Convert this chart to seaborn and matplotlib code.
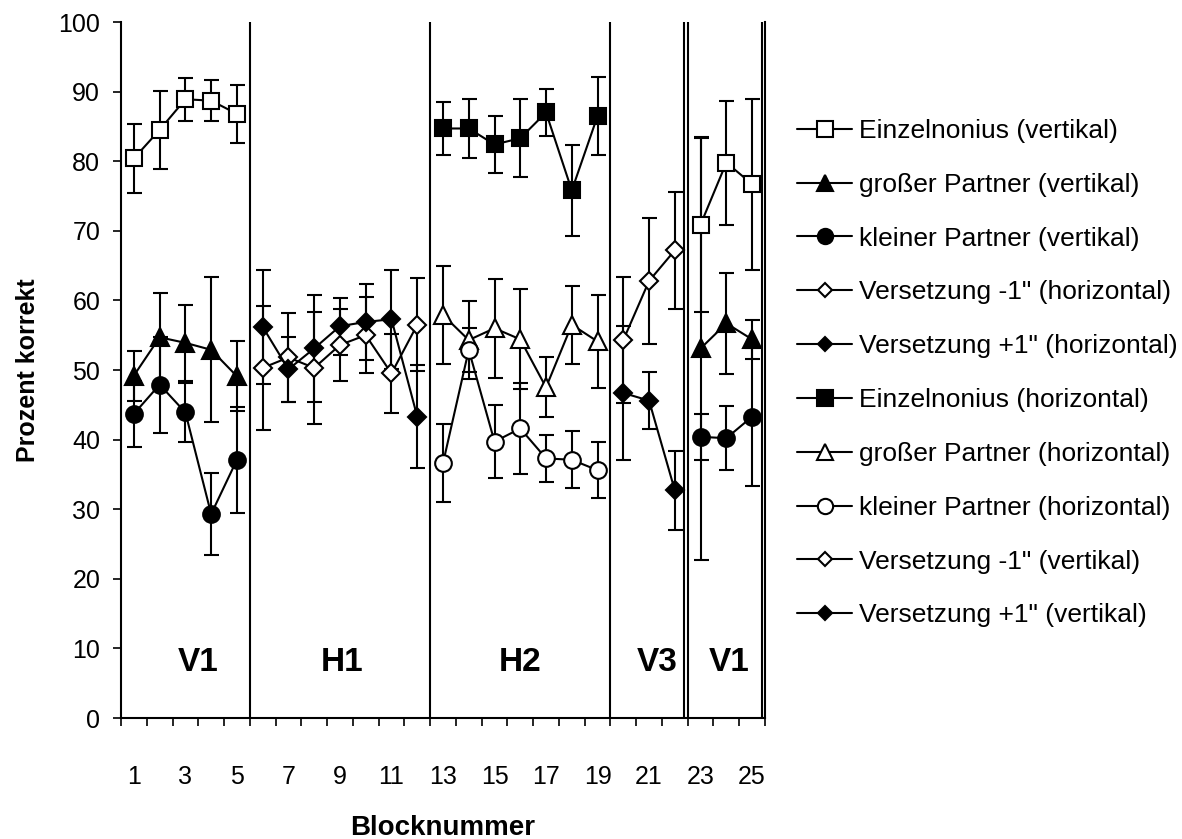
import numpy as np
import pandas as pd
import matplotlib
matplotlib.use("Agg")
import matplotlib.pyplot as plt
from matplotlib.lines import Line2D
import seaborn as sns

sns.set_theme(style="white")
plt.rcParams["font.family"] = ["Liberation Sans", "DejaVu Sans"]
plt.rcParams["text.color"] = "black"
plt.rcParams["axes.labelcolor"] = "black"

# Block numbers of the individual test phases
bloecke_v = [1, 2, 3, 4, 5, 23, 24, 25]
bloecke_h1 = [6, 7, 8, 9, 10, 11, 12]
bloecke_h2 = [13, 14, 15, 16, 17, 18, 19]
bloecke_v3 = [20, 21, 22]

# Percent correct (mean) and error (+/-) per condition
einzel_vert = [80.4, 84.5, 88.9, 88.7, 86.8, 70.9, 79.8, 76.7]
einzel_vert_err = [4.9, 5.6, 3.1, 2.9, 4.2, 12.5, 8.9, 12.3]
gross_vert = [49.2, 54.7, 53.9, 52.9, 49.1, 53.1, 56.7, 54.4]
gross_vert_err = [3.6, 6.4, 5.5, 10.4, 5.0, 30.4, 7.3, 2.8]
klein_vert = [43.7, 47.9, 43.9, 29.3, 37.1, 40.4, 40.2, 43.3]
klein_vert_err = [4.7, 6.9, 4.3, 5.9, 7.6, 3.3, 4.6, 9.9]

minus_hor = [50.3, 51.8, 50.3, 53.6, 55.0, 49.5, 56.5]
minus_hor_err = [8.9, 6.4, 8.1, 5.2, 5.5, 5.7, 6.7]
plus_hor = [56.2, 50.1, 53.1, 56.3, 56.9, 57.3, 43.3]
plus_hor_err = [8.2, 4.7, 7.7, 4.1, 5.5, 7.1, 7.4]

einzel_hor = [84.7, 84.7, 82.4, 83.3, 87.0, 75.8, 86.5]
einzel_hor_err = [3.8, 4.3, 4.1, 5.6, 3.4, 6.5, 5.6]
gross_hor = [57.9, 54.3, 56.0, 54.4, 47.5, 56.5, 54.1]
gross_hor_err = [7.0, 5.6, 7.1, 7.2, 4.3, 5.6, 6.7]
klein_hor = [36.6, 52.9, 39.7, 41.6, 37.3, 37.1, 35.6]
klein_hor_err = [5.6, 3.2, 5.2, 6.5, 3.4, 4.1, 4.0]

minus_vert = [54.3, 62.8, 67.2]
minus_vert_err = [9.1, 9.0, 8.4]
plus_vert = [46.7, 45.6, 32.7]
plus_vert_err = [9.6, 4.1, 5.7]

abschnitte = ["V1", "H1", "H2", "V3", "V1"]
y_ticks = list(range(0, 101, 10))
x_ticks = list(range(1, 26, 2))

serien = [
    ('Einzelnonius (vertikal)', bloecke_v, einzel_vert, einzel_vert_err, "s", False),
    ('großer Partner (vertikal)', bloecke_v, gross_vert, gross_vert_err, "^", True),
    ('kleiner Partner (vertikal)', bloecke_v, klein_vert, klein_vert_err, "o", True),
    ('Versetzung -1" (horizontal)', bloecke_h1, minus_hor, minus_hor_err, "D", False),
    ('Versetzung +1" (horizontal)', bloecke_h1, plus_hor, plus_hor_err, "D", True),
    ('Einzelnonius (horizontal)', bloecke_h2, einzel_hor, einzel_hor_err, "s", True),
    ('großer Partner (horizontal)', bloecke_h2, gross_hor, gross_hor_err, "^", False),
    ('kleiner Partner (horizontal)', bloecke_h2, klein_hor, klein_hor_err, "o", False),
    ('Versetzung -1" (vertikal)', bloecke_v3, minus_vert, minus_vert_err, "D", False),
    ('Versetzung +1" (vertikal)', bloecke_v3, plus_vert, plus_vert_err, "D", True),
]

# long table; a new line segment starts wherever the block sequence jumps
frames = []
for name, blk, val, err, *_ in serien:
    blk = np.asarray(blk)
    seg = np.cumsum(np.diff(np.r_[blk[0] - 1, blk]) != 1)
    frames.append(pd.DataFrame({"serie": name, "block": blk, "wert": val,
                                "fehler": err, "abschnitt": seg}))
df = pd.concat(frames, ignore_index=True)

fig = plt.figure(figsize=(11.82, 8.39), dpi=100)
ax = fig.add_axes([121 / 1182, 1 - 718 / 839, 644 / 1182, 696 / 839])

marker_size = {"s": 12, "^": 13, "o": 12, "D": 9}
handles = []
for name, blk, val, err, m, filled in serien:
    sub = df[df["serie"] == name]
    fc = "black" if filled else "white"
    ax.errorbar(sub["block"], sub["wert"], yerr=sub["fehler"], fmt="none",
                ecolor="black", elinewidth=1.5, capsize=5.4, capthick=1.5,
                zorder=2)
    sns.lineplot(data=sub, x="block", y="wert", units="abschnitt",
                 estimator=None, color="black", lw=1.5, marker=m,
                 ms=marker_size[m], mfc=fc, mec="black", mew=1.5,
                 legend=False, zorder=3, ax=ax)
    handles.append(Line2D([0], [0], color="black", lw=1.5, marker=m,
                          ms=7 if m == "D" else marker_size[m] - 1,
                          mfc=fc, mec="black", mew=1.5))

# phase boundaries
for xb in [5.5, 12.5, 19.5, 22.36, 22.5, 25.4]:
    ax.axvline(xb, color="black", lw=1.5, zorder=1)

for lab, xpos in zip(abschnitte, [3.5, 9.1, 16.0, 21.3, 24.1]):
    ax.text(xpos, 8.0, lab, ha="center", va="center", fontsize=24,
            fontweight="bold", color="black")

ax.set_xlim(0.5, 25.5)
ax.set_ylim(0, 100)
ax.set_yticks(y_ticks)
ax.set_xticks(x_ticks)
ax.set_xticks(np.arange(0.5, 25.6, 1), minor=True)
ax.tick_params(axis="x", which="major", bottom=True, length=0, pad=34,
               labelsize=18, colors="black")
ax.tick_params(axis="x", which="minor", bottom=True, length=6, width=1.2,
               direction="out", color="black")
ax.tick_params(axis="y", which="major", left=True, length=6, width=1.2,
               direction="out", pad=9, labelsize=18, colors="black")

for s in ["left", "bottom", "right"]:
    ax.spines[s].set_color("black")
    ax.spines[s].set_linewidth(1.5)
ax.spines["top"].set_visible(False)

ax.set_xlabel("Blocknummer", fontsize=20, fontweight="bold", color="black")
ax.xaxis.set_label_coords(0.5, -0.158)
ax.xaxis.label.set_verticalalignment("center")
ax.set_ylabel("Prozent korrekt", fontsize=18, fontweight="bold", color="black")
ax.yaxis.set_label_coords(-0.144, 0.5)
ax.yaxis.label.set_verticalalignment("center")

ax.legend(handles, [s[0] for s in serien], loc="upper left",
          bbox_to_anchor=(797 / 1182, 1 - 119 / 839),
          bbox_transform=fig.transFigure, frameon=False, fontsize=19,
          handlelength=2.1, handletextpad=0.25, labelspacing=1.13,
          borderpad=0, borderaxespad=0, numpoints=1, labelcolor="black")

fig.savefig("out.png", dpi=100)
